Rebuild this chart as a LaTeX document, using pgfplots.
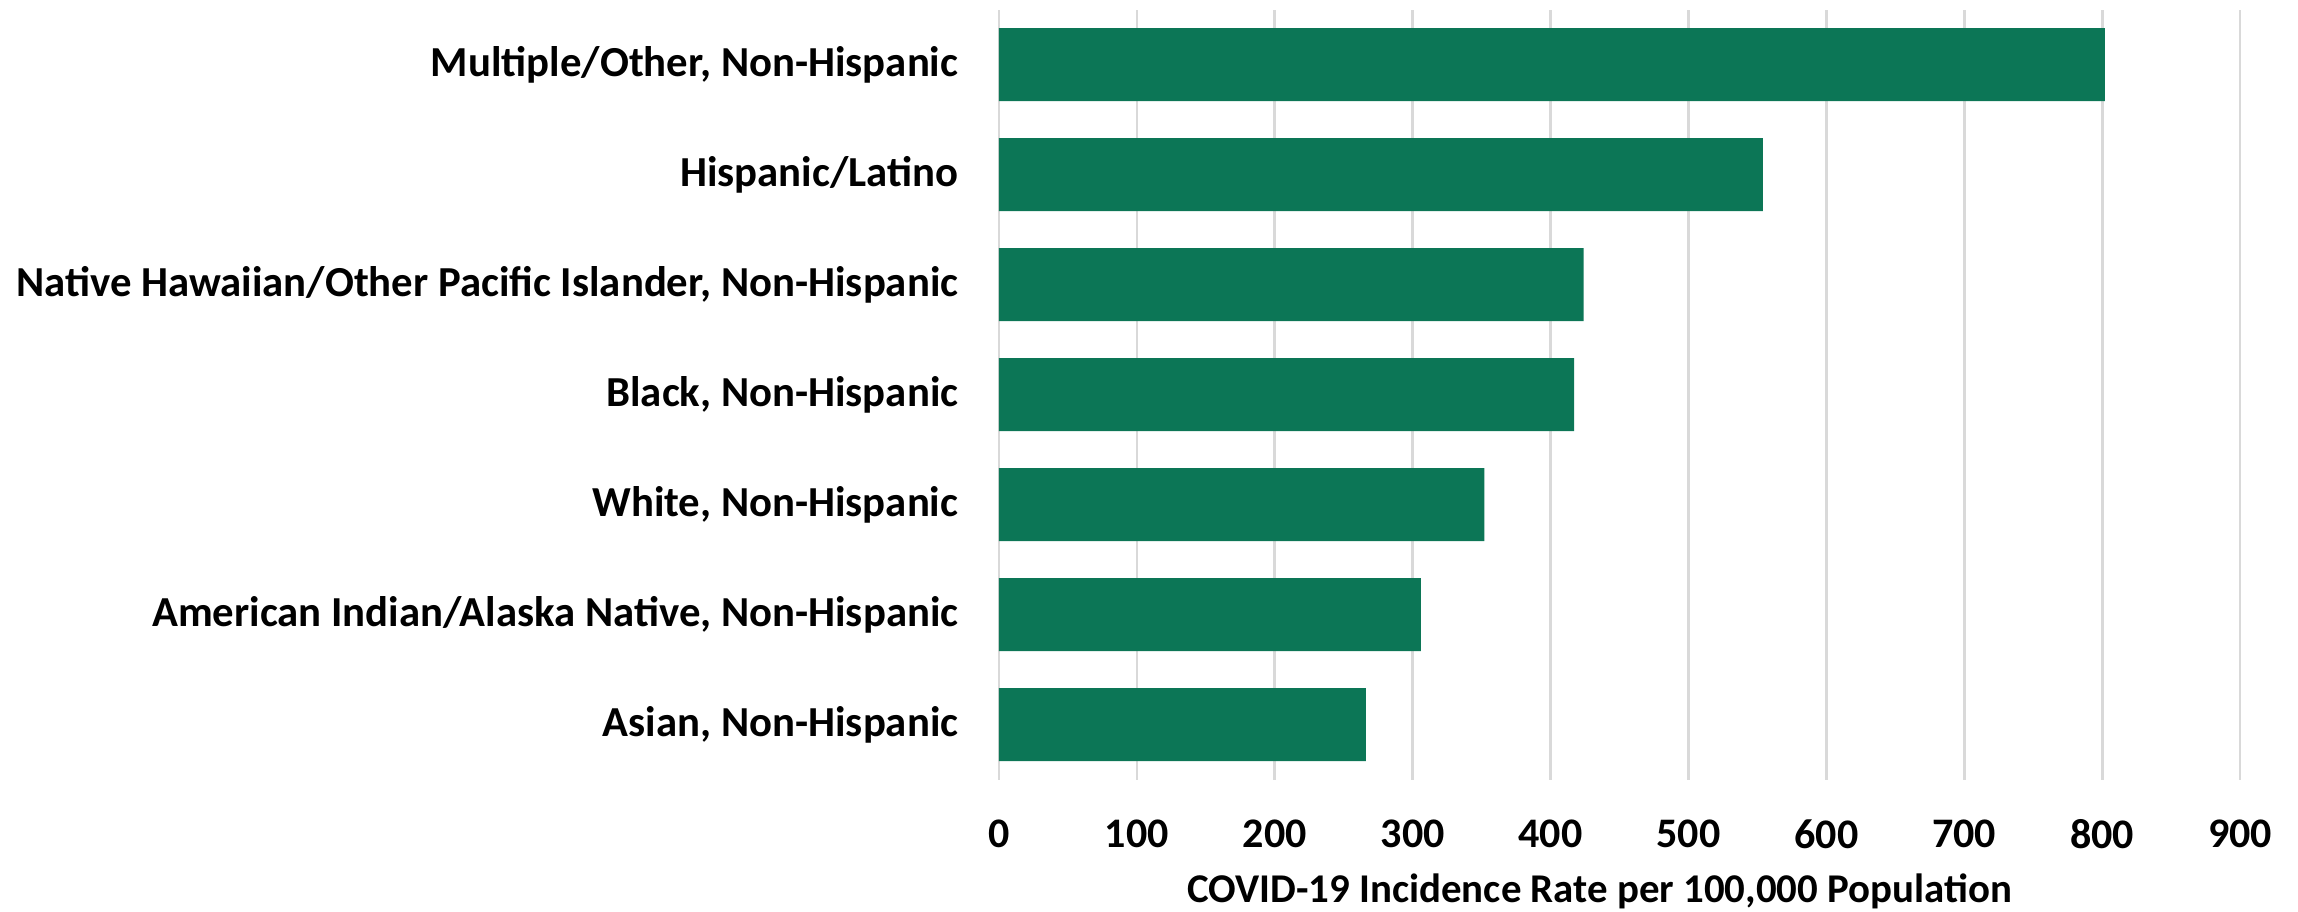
\documentclass[border=0pt]{standalone}
\usepackage{fontspec}
\setmainfont{Carlito}
\usepackage{pgfplots}
\pgfplotsset{compat=1.18}
\definecolor{barGreen}{RGB}{12,118,86}
\definecolor{gridGray}{RGB}{217,217,217}
\begin{document}
\begin{tikzpicture}
\useasboundingbox (-289.7pt,-38.3pt) rectangle (376.7pt,226.1pt);
\begin{axis}[
  at={(0,0)}, anchor=south west,
  scale only axis,
  width=359.9pt, height=223.3pt,
  xbar, bar width=21.2pt,
  xmin=0, xmax=900,
  ymin=-0.5, ymax=6.5,
  xtick={0,100,...,900},
  ytick={0,1,2,3,4,5,6},
  yticklabels={{Asian, Non-Hispanic},{American Indian/Alaska Native, Non-Hispanic},{White, Non-Hispanic},{Black, Non-Hispanic},{Native Hawaiian/Other Pacific Islander, Non-Hispanic},{Hispanic/Latino},{Multiple/Other, Non-Hispanic}},
  xmajorgrids,
  major grid style={gridGray, line width=0.8pt},
  axis line style={draw=none},
  tick style={draw=none},
  /pgf/number format/assume math mode=true,
  yticklabel style={xshift=-4pt, font=\bfseries\fontsize{12.4}{14}\selectfont},
  xticklabel style={yshift=-8pt, font=\bfseries\fontsize{12.2}{14}\selectfont},
  xlabel={COVID-19 Incidence Rate per 100,000 Population},
  x label style={at={(axis description cs:0.484,0)}, anchor=center, yshift=-32.5pt, font=\bfseries\fontsize{11.85}{14}\selectfont},
]
\addplot[fill=barGreen, draw=none] coordinates {
  (266,0) (306,1) (352,2) (417,3) (424,4) (554,5) (802,6)
};
\end{axis}
\end{tikzpicture}
\end{document}
